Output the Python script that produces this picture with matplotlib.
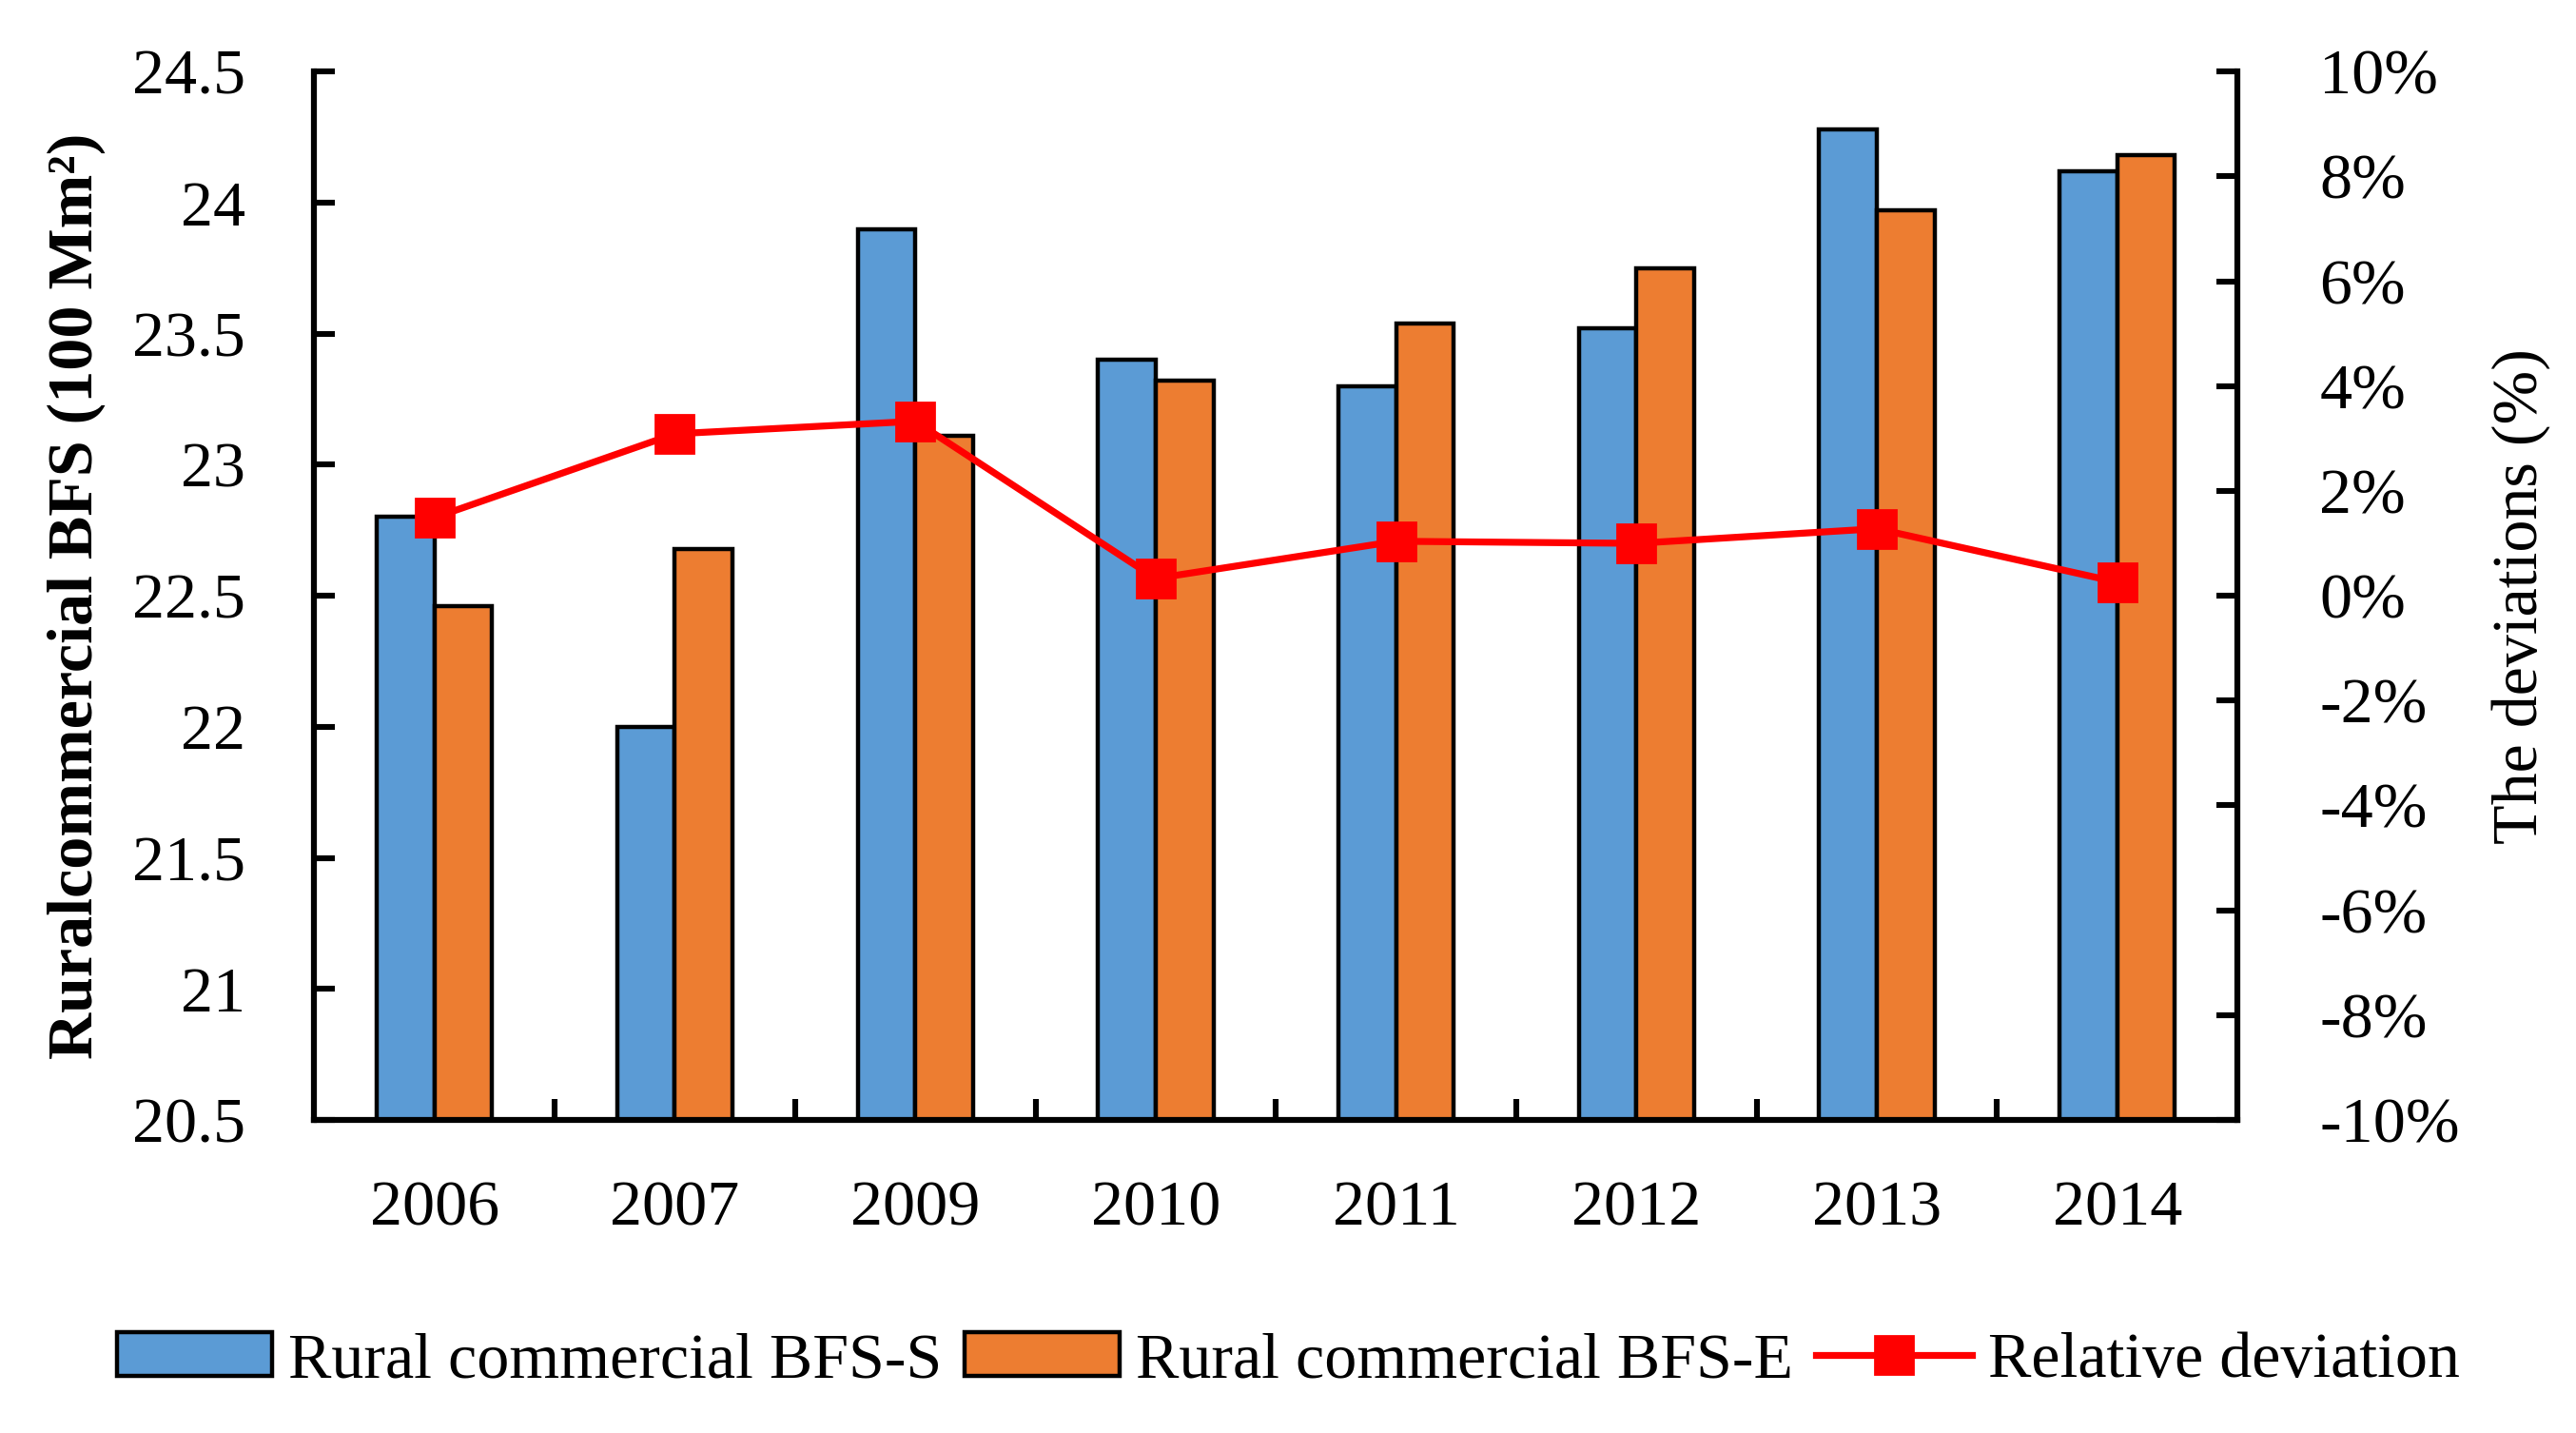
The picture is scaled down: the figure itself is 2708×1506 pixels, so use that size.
import matplotlib
matplotlib.use("Agg")
import matplotlib.pyplot as plt
from matplotlib.ticker import FixedLocator, FuncFormatter

years = ['2006', '2007', '2009', '2010', '2011', '2012', '2013', '2014']
bfs_s = [22.80, 22.00, 23.90, 23.40, 23.30, 23.52, 24.28, 24.12]
bfs_e = [22.46, 22.68, 23.11, 23.32, 23.54, 23.75, 23.97, 24.18]
deviation = [1.49, 3.09, 3.33, 0.33, 1.04, 1.00, 1.28, 0.26]   # percent

plt.rcParams['font.family'] = ['Liberation Serif', 'DejaVu Serif']
fs = 24.5
lw_ax = 2.2

fig = plt.figure(figsize=(13.54, 7.53), dpi=200)
ax = fig.add_axes([0.122, 0.2185, 0.7466, 0.7315])
ax2 = ax.twinx()

x = list(range(len(years)))
w = 0.24
ax.bar([i - w / 2 for i in x], bfs_s, w, color='#5B9BD5', edgecolor='black',
       linewidth=1.6, label='Rural commercial BFS-S', zorder=2)
ax.bar([i + w / 2 for i in x], bfs_e, w, color='#ED7D31', edgecolor='black',
       linewidth=1.6, label='Rural commercial BFS-E', zorder=2)
ax2.plot(x, [d / 100 for d in deviation], color='#FF0000', linewidth=2.6,
         marker='s', markersize=14.5, label='Relative deviation')

ax.set_xlim(-0.5, len(years) - 0.5)
ax.set_ylim(20.5, 24.5)
ax.set_yticks([20.5 + 0.5 * k for k in range(9)])
ax.set_yticklabels(['20.5', '21', '21.5', '22', '22.5', '23', '23.5', '24', '24.5'])
ax.set_xticks(x)
ax.set_xticklabels(years)
ax.xaxis.set_minor_locator(FixedLocator([i + 0.5 for i in x[:-1]]))
ax.tick_params(axis='x', which='major', length=0, pad=23, labelsize=fs)
ax.tick_params(axis='x', which='minor', direction='in', length=8, width=lw_ax)
ax.tick_params(axis='y', direction='in', length=8, width=lw_ax, pad=26, labelsize=fs)

ax2.set_ylim(-0.10, 0.10)
ax2.set_yticks([-0.10 + 0.02 * k for k in range(11)])
ax2.yaxis.set_major_formatter(FuncFormatter(lambda v, p: f"{round(v * 100):d}%"))
ax2.tick_params(axis='y', direction='in', length=8, width=lw_ax, pad=31, labelsize=fs)

for a in (ax, ax2):
    a.spines['top'].set_visible(False)
    for s in ('left', 'right', 'bottom'):
        a.spines[s].set_linewidth(lw_ax)

ax.set_ylabel('Ruralcommercial BFS (100 Mm²)', fontsize=fs, fontweight='bold', labelpad=10)
ax2.set_ylabel('The deviations (%)', fontsize=fs, labelpad=12)

h1, l1 = ax.get_legend_handles_labels()
h2, l2 = ax2.get_legend_handles_labels()
fig.legend(h1 + h2, l1 + l2, loc='center', bbox_to_anchor=(0.5, 0.05), ncol=3,
           frameon=False, fontsize=fs, handlelength=2.4, handleheight=0.66,
           handletextpad=0.25, columnspacing=0.35)

fig.savefig('out.png', dpi=200)
